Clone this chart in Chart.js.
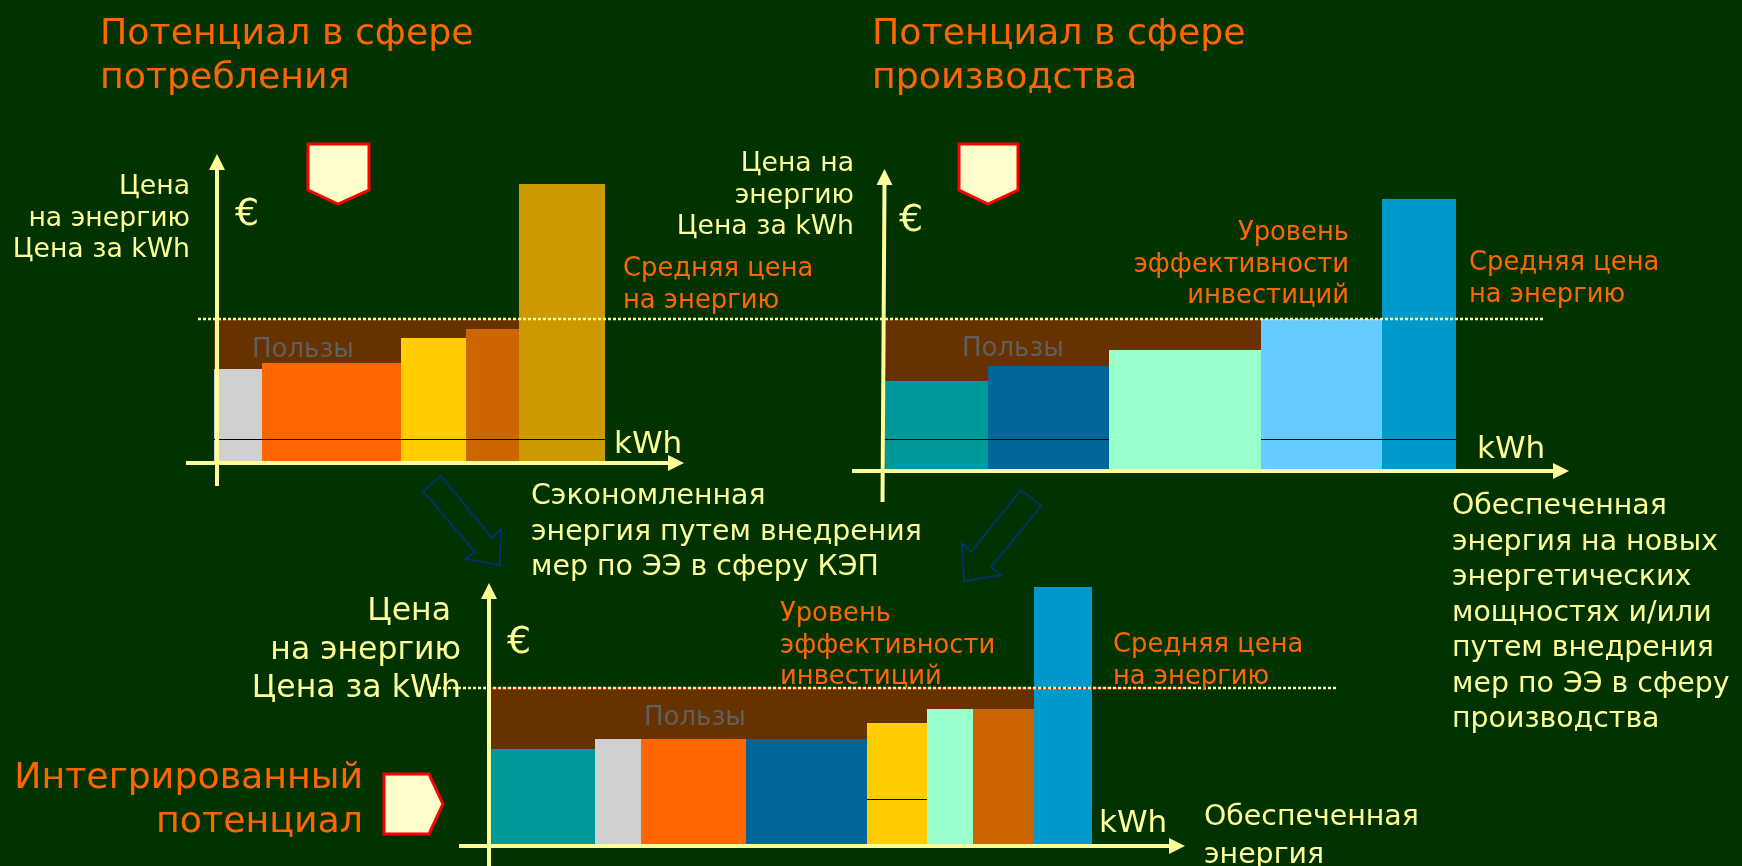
<!DOCTYPE html>
<html>
<head>
<meta charset="utf-8"/>
<title>Потенциал</title>
<script src="https://cdn.jsdelivr.net/npm/chart.js@4"></script>
<style>
  html,body { margin:0; padding:0; background:#003300; }
  #page { position:relative; width:1742px; height:866px; overflow:hidden; background:#003300; font-family:"DejaVu Sans",sans-serif; }
  canvas { position:absolute; }
  svg { position:absolute; left:0; top:0; }
  .t { position:absolute; white-space:pre; }
  .title { color:#ff6600; font-size:36.3px; line-height:44px; }
  .note { color:#ffff99; font-size:28.4px; line-height:35.5px; }
  .axis { color:#ffff99; font-size:26.7px; line-height:31.5px; text-align:right; }
  .mid { color:#ff6600; font-size:25.8px; line-height:31.5px; }
  .gain { color:#5f5f5f; font-size:26px; line-height:30px; }
  .kwh { color:#ffff99; font-size:31px; line-height:36px; }
  .eur { color:#ffff99; font-size:38px; line-height:44px; }
</style>
</head>
<body>
<div id="page">
  <canvas id="c1" width="520" height="350" style="left:180px;top:140px"></canvas>
  <canvas id="c2" width="900" height="370" style="left:700px;top:140px"></canvas>
  <canvas id="c3" width="950" height="296" style="left:400px;top:570px"></canvas>

  <svg width="1742" height="866">
    <g fill="#ffffcc" stroke="#ff0000" stroke-width="3">
      <polygon points="308,144 369,144 369,190 338,204 308,190"/>
      <polygon points="959,144 1018,144 1018,190 988,204 959,190"/>
      <polygon points="384,774 429,774 443,804 429,834 384,834"/>
    </g>
    <g fill="none" stroke="#003366" stroke-width="2">
      <polygon points="441,476 423,491 475,552 465,559 500,565 501,529 492,538"/>
      <polygon points="1021,490 1041,506 991,567 1001,575 964,581 962,543 971,552"/>
    </g>
  </svg>

  <div class="t title" style="left:100px;top:10px">Потенциал в сфере
потребления</div>
  <div class="t title" style="left:872px;top:10px">Потенциал в сфере
производства</div>
  <div class="t title" style="right:1379px;top:754px;text-align:right">Интегрированный
потенциал</div>

  <div class="t axis" style="right:1552px;top:169px">Цена
на энергию
Цена за kWh</div>
  <div class="t axis" style="right:888px;top:146px">Цена на
энергию
Цена за kWh</div>
  <div class="t axis" style="right:1281px;top:590px;font-size:31.5px;line-height:38.5px">Цена 
на энергию
Цена за kWh</div>

  <div class="t eur" style="left:235px;top:190px">€</div>
  <div class="t eur" style="left:899px;top:196px">€</div>
  <div class="t eur" style="left:507px;top:618px">€</div>

  <div class="t mid" style="left:623px;top:252px">Средняя цена
на энергию</div>
  <div class="t mid" style="left:1469px;top:246px">Средняя цена
на энергию</div>
  <div class="t mid" style="left:1113px;top:628px">Средняя цена
на энергию</div>
  <div class="t mid" style="right:393px;top:216px;text-align:right">Уровень
эффективности
инвестиций</div>
  <div class="t mid" style="left:780px;top:597px">Уровень
эффективности
инвестиций</div>

  <div class="t gain" style="left:252px;top:333px">Пользы</div>
  <div class="t gain" style="left:962px;top:332px">Пользы</div>
  <div class="t gain" style="left:644px;top:701px">Пользы</div>

  <div class="t kwh" style="left:614px;top:424px">kWh</div>
  <div class="t kwh" style="left:1477px;top:429px">kWh</div>
  <div class="t kwh" style="left:1099px;top:803px">kWh</div>

  <div class="t note" style="left:531px;top:477px">Сэкономленная
энергия путем внедрения
мер по ЭЭ в сферу КЭП</div>
  <div class="t note" style="left:1452px;top:487px">Обеспеченная
энергия на новых
энергетических
мощностях и/или
путем внедрения
мер по ЭЭ в сферу
производства</div>
  <div class="t note" style="left:1204px;top:797px;line-height:37.5px">Обеспеченная
энергия</div>
</div>

<script>
// kWh width of each step and its price, one unit = one screen pixel of the reference
const widths1 = [48, 139, 65, 53, 86];
const prices1 = [92, 98, 123, 132, 277];
const colors1 = ['#d0d0d0', '#ff6600', '#ffcc00', '#cc6600', '#cc9900'];
const level1 = 142, thin1 = 21.5;

const widths2 = [103, 121, 152, 121, 74];
const prices2 = [88, 103, 119, 150, 270];
const colors2 = ['#009999', '#006699', '#99ffcc', '#66ccff', '#0099cc'];
const level2 = 150, thin2 = 29.5;

const widths3 = [104, 46, 105, 121, 60, 46, 61, 58];
const prices3 = [95, 105, 105, 105, 121, 135, 135, 257];
const colors3 = ['#009999', '#d0d0d0', '#ff6600', '#006699', '#ffcc00', '#99ffcc', '#cc6600', '#0099cc'];
const level3 = 156, thin3 = 44.5;

const edges = w => w.reduce((a, v) => [...a, a[a.length - 1] + v], [0]);

const stepSet = (x0, x1, y, color, order) => ({
  data: [{x:x0, y}, {x:x1, y}], backgroundColor: color, fill: 'origin',
  borderWidth: 0, pointRadius: 0, order,
});
const lineSet = (pts, color, width, dash, order) => ({
  data: pts, borderColor: color, borderWidth: width, borderDash: dash,
  fill: false, pointRadius: 0, order,
});

const arrowAxes = {
  id: 'arrowAxes',
  afterDatasetsDraw(chart, args, o) {
    const { ctx, scales:{x, y} } = chart;
    const px = x.getPixelForValue(o.crossX), py = y.getPixelForValue(o.crossY);
    const lowX = x.getPixelForValue(o.lowX ?? o.crossX);
    const xEnd = x.getPixelForValue(o.xTo), yEnd = y.getPixelForValue(o.yTo);
    ctx.save();
    ctx.strokeStyle = ctx.fillStyle = '#ffff99';
    ctx.lineWidth = 4;
    ctx.beginPath();
    ctx.moveTo(x.getPixelForValue(o.xFrom), py); ctx.lineTo(xEnd - 14, py);
    ctx.moveTo(lowX, y.getPixelForValue(o.yFrom)); ctx.lineTo(px, yEnd + 14);
    ctx.stroke();
    ctx.beginPath();
    ctx.moveTo(xEnd, py); ctx.lineTo(xEnd - 16, py - 8); ctx.lineTo(xEnd - 16, py + 8); ctx.closePath();
    ctx.moveTo(px, yEnd); ctx.lineTo(px - 8, yEnd + 16); ctx.lineTo(px + 8, yEnd + 16); ctx.closePath();
    ctx.fill();
    ctx.restore();
  },
};

function drawChart(id, opt) {
  const xs = edges(opt.widths);
  const sets = opt.prices.map((p, i) => stepSet(xs[i], xs[i + 1], p, opt.colors[i], 2));
  sets.push(stepSet(0, xs[opt.benefitEnd], opt.level, '#663300', 3));
  opt.lines.forEach(l => sets.push(l(xs)));
  new Chart(document.getElementById(id), {
    type: 'line',
    data: { datasets: sets },
    plugins: [arrowAxes],
    options: {
      responsive: false, animation: false, parsing: { xAxisKey:'x', yAxisKey:'y' },
      layout: { padding: 0 },
      plugins: { legend: { display:false }, tooltip: { enabled:false }, arrowAxes: opt.axes },
      scales: {
        x: { type:'linear', display:false, min:opt.xRange[0], max:opt.xRange[1] },
        y: { type:'linear', display:false, min:opt.yRange[0], max:opt.yRange[1] },
      },
    },
  });
}

drawChart('c1', {
  widths: widths1, prices: prices1, colors: colors1, level: level1, benefitEnd: 4,
  xRange: [-34, 486], yRange: [-29, 321],
  axes: { crossX:3, crossY:-2, xFrom:-28, xTo:470, yFrom:-25, yTo:307 },
  lines: [
    xs => lineSet([{x:0,y:thin1},{x:xs[5],y:thin1}], '#000000', 1, [], 1),
    () => lineSet([{x:-16,y:level1},{x:486,y:level1}], '#ffff99', 2.5, [3,2], 0),
  ],
});

drawChart('c2', {
  widths: widths2, prices: prices2, colors: colors2, level: level2, benefitEnd: 3,
  xRange: [-185, 715], yRange: [-41, 329],
  axes: { crossX:-0.5, lowX:-2.5, crossY:-2, xFrom:-33, xTo:684, yFrom:-33, yTo:300 },
  lines: [
    xs => lineSet([{x:0,y:thin2},{x:xs[2],y:thin2},{x:xs[2],y:null},{x:xs[3],y:thin2},{x:xs[5],y:thin2}], '#000000', 1, [], 1),
    () => lineSet([{x:-185,y:level2},{x:659,y:level2}], '#ffff99', 2.5, [3,2], 0),
  ],
});

drawChart('c3', {
  widths: widths3, prices: prices3, colors: colors3, level: level3 - 1, benefitEnd: 7,
  xRange: [-91, 859], yRange: [-22, 274],
  axes: { crossX:-2, crossY:-2, xFrom:-32, xTo:694, yFrom:-22, yTo:261 },
  lines: [
    xs => lineSet([{x:xs[4],y:thin3},{x:xs[5],y:thin3}], '#000000', 1, [], 1),
    () => lineSet([{x:0,y:level3},{x:699,y:level3}], '#ff0000', 2, [], 0.5),
    () => lineSet([{x:-63,y:level3},{x:847,y:level3}], '#ffff99', 2.5, [3,2], 0),
  ],
});
</script>
</body>
</html>
